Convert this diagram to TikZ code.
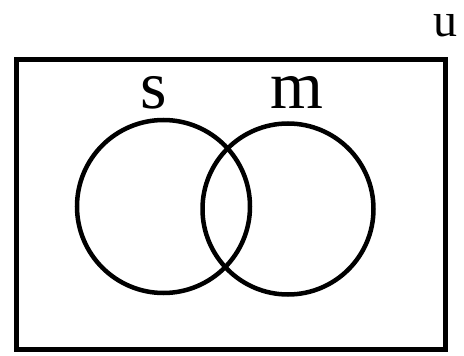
\documentclass[tikz,border=0pt]{standalone}
\usepackage{fontspec}
\setmainfont{Liberation Serif}
\begin{document}
\begin{tikzpicture}[x=1pt,y=-1pt,
  venn/.style={draw=black,line width=4.5pt},
  lbl/.style={inner sep=0pt,anchor=base,font=\fontsize{68}{68}\selectfont}]
\useasboundingbox (0,0) rectangle (464,356);
\node[venn,draw,minimum width=429pt,minimum height=290pt,inner sep=0pt,anchor=north west] (U) at (14,57) {};
\node[venn,circle,minimum size=173pt,inner sep=0pt] (S) at (163.5,206.5) {};
\node[venn,circle,minimum size=171pt,inner sep=0pt] (M) at (288,209) {};
\node[lbl] (ls) at (154,108) {s};
\node[lbl] (lm) at (297,108) {m};
\node[lbl,font=\fontsize{48}{48}\selectfont] (lu) at (445,37) {u};
\end{tikzpicture}
\end{document}
